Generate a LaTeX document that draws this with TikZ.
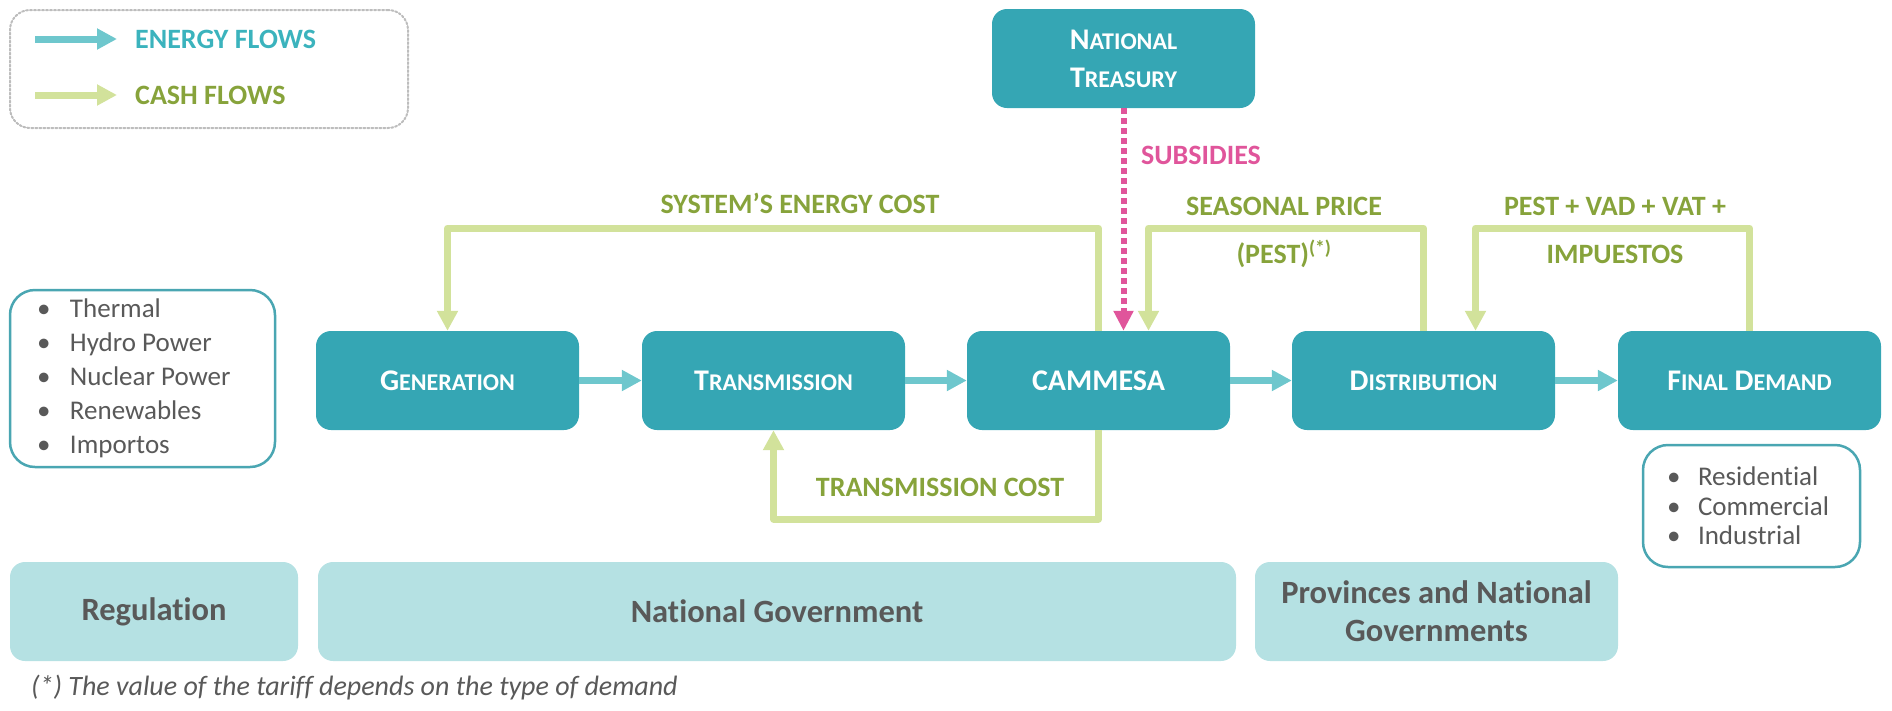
\documentclass[tikz,border=0pt]{standalone}
\usepackage{fontspec}
\setmainfont{Carlito}[Ligatures=NoCommon]
\usetikzlibrary{arrows.meta, positioning}

\definecolor{boxteal}{HTML}{35A6B4}
\definecolor{flowteal}{HTML}{6EC7CD}
\definecolor{flowtext}{HTML}{3BB3BD}
\definecolor{cashline}{HTML}{D2E29B}
\definecolor{cashtext}{HTML}{87A33B}
\definecolor{subpink}{HTML}{E0559B}
\definecolor{govfill}{HTML}{B5E1E3}
\definecolor{greytext}{HTML}{595959}
\definecolor{listedge}{HTML}{4AA6B2}
\definecolor{legendedge}{HTML}{BDBDBD}

\newcommand{\scword}[2]{{\fontsize{30}{38}\selectfont #1}{\fontsize{24}{38}\selectfont #2}}

\begin{document}
\begin{tikzpicture}[
  x=1pt, y=-1pt,
  stage/.style={rectangle, rounded corners=15pt, fill=boxteal, text=white, font=\bfseries\fontsize{30}{38}\selectfont, minimum width=263pt, minimum height=99pt, align=center, inner sep=0pt},
  gov/.style={rectangle, rounded corners=15pt, fill=govfill, text=greytext, font=\bfseries\fontsize{32.5}{38}\selectfont, minimum height=99pt, align=center, inner sep=0pt},
  listbox/.style={rectangle, draw=listedge, line width=2.5pt, rounded corners=25pt, fill=white, text=greytext, align=flush left, font=\fontsize{27}{34}\selectfont},
  energy/.style={draw=flowteal, line width=7pt, -{Triangle[length=20pt, width=20pt]}},
  cash/.style={draw=cashline, line width=7pt, line join=round, -{Triangle[length=20pt, width=20pt]}},
  subsidy/.style={draw=subpink, line width=6pt, dash pattern=on 6pt off 4pt, -{Triangle[length=20pt, width=19pt]}},
  cashlabel/.style={text=cashtext, font=\bfseries\fontsize{28}{34}\selectfont, inner sep=0pt}
  ]

  \useasboundingbox (0,0) rectangle (1892,710);

  % Legend
  \node[rectangle, draw=legendedge, line width=2pt, dash pattern=on 2pt off 2pt, line cap=round, rounded corners=20pt, minimum width=398pt, minimum height=118pt] (legend) at (209,69) {};
  \coordinate (enA) at (35,39);
  \coordinate (enB) at (117,39);
  \coordinate (caA) at (35,95);
  \coordinate (caB) at (117,95);
  \draw[energy] (enA) -- (enB);
  \draw[cash] (caA) -- (caB);
  \node[anchor=west, inner sep=0pt, text=flowtext, font=\bfseries\fontsize{28}{34}\selectfont] (legenergy) at (135,39) {ENERGY FLOWS};
  \node[anchor=west, inner sep=0pt, text=cashtext, font=\bfseries\fontsize{28}{34}\selectfont] (legcash) at (135,95) {CASH FLOWS};

  % Stages of the chain
  \node[stage] (gen) at (447.5,380.5) {\scword{G}{ENERATION}};
  \node[stage] (trans) at (773.5,380.5) {\scword{T}{RANSMISSION}};
  \node[stage] (cammesa) at (1098.5,380.5) {CAMMESA};
  \node[stage] (dist) at (1423.5,380.5) {\scword{D}{ISTRIBUTION}};
  \node[stage] (final) at (1749.5,380.5) {\scword{F}{INAL} \scword{D}{EMAND}};
  \node[stage] (treasury) at (1123.5,58.5) {\scword{N}{ATIONAL}\\\scword{T}{REASURY}};

  % Side lists
  \node[listbox, minimum width=265pt, minimum height=177pt, text width=211pt, inner xsep=27pt] (sources) at (142.5,378.5) {\makebox[33pt][l]{•}Thermal\\\makebox[33pt][l]{•}Hydro Power\\\makebox[33pt][l]{•}Nuclear Power\\\makebox[33pt][l]{•}Renewables\\\makebox[33pt][l]{•}Importos};
  \node[listbox, font=\fontsize{27}{29.5}\selectfont, minimum width=217pt, minimum height=122pt, text width=169pt, inner xsep=24pt] (demand) at (1751.5,506) {\makebox[31pt][l]{•}Residential\\\makebox[31pt][l]{•}Commercial\\\makebox[31pt][l]{•}Industrial};

  % Institutions
  \node[gov, minimum width=288pt] (regulation) at (154,611.5) {Regulation};
  \node[gov, minimum width=918pt] (natgov) at (777,611.5) {National Government};
  \node[gov, minimum width=363pt] (provgov) at (1436.5,611.5) {Provinces and National\\Governments};

  \node[anchor=west, inner sep=0pt, text=greytext, font=\itshape\fontsize{28}{32}\selectfont] (note) at (31,688) {(*) The value of the tariff depends on the type of demand};

  % Energy flows
  \draw[energy] (gen) -- (trans);
  \draw[energy] (trans) -- (cammesa);
  \draw[energy] (cammesa) -- (dist);
  \draw[energy] (dist) -- (final);

  % Cash flows
  \draw[cash] (cammesa.north) -- (cammesa.north |- 0,228) -| (gen.north);
  \draw[cash] (cammesa.south) -- (cammesa.south |- 0,519) -| (trans.south);
  \draw[cash] (dist.north) -- (dist.north |- 0,228) -| ([xshift=50pt]cammesa.north);
  \draw[cash] (final.north) -- (final.north |- 0,228) -| ([xshift=52pt]dist.north);
  \draw[subsidy] (treasury.south) -- (treasury.south |- cammesa.north);

  \node[cashlabel] (lblsys) at (800,203) {SYSTEM’S ENERGY COST};
  \node[cashlabel] (lbltrans) at (940,487) {TRANSMISSION COST};
  \node[cashlabel] (lblseason) at (1284,206) {SEASONAL PRICE};
  \node[cashlabel] (lblpest) at (1284,254) {(PEST)\textsuperscript{(*)}};
  \node[cashlabel] (lbltariff) at (1615,206) {PEST + VAD + VAT +};
  \node[cashlabel] (lbltax) at (1615,254) {IMPUESTOS};
  \node[cashlabel, text=subpink] (lblsub) at (1201,155) {SUBSIDIES};

\end{tikzpicture}
\end{document}
